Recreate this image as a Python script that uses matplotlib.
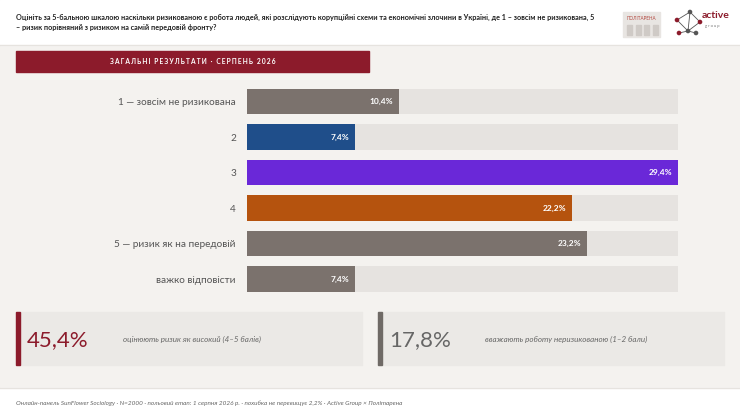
import matplotlib
matplotlib.use('Agg')
import matplotlib.pyplot as plt
from matplotlib.patches import Rectangle, Circle
import numpy as np

plt.rcParams['font.family'] = ['Lato', 'DejaVu Sans']

# data
categories = ['1 — зовсім не ризикована', '2', '3', '4', '5 — ризик як на передовій', 'важко відповісти']
values = [10.4, 7.4, 29.4, 22.2, 23.2, 7.4]
bar_colors = ['#7b726d', '#1f4e8a', '#6a28d8', '#b5530e', '#7b726d', '#7b726d']
value_labels = ['10,4%', '7,4%', '29,4%', '22,2%', '23,2%', '7,4%']

title = ('Оцініть за 5-бальною шкалою наскільки ризикованою є робота людей, які розслідують корупційні схеми та економічні злочини в Україні, де 1 – зовсім не ризикована, 5\n'
         '– ризик порівняний з ризиком на самій передовій фронту?')
banner = 'ЗАГАЛЬНІ РЕЗУЛЬТАТИ · СЕРПЕНЬ 2026'
summary_values = ['45,4%', '17,8%']
summary_texts = ['оцінюють ризик як високий (4–5 балів)', 'вважають роботу неризикованою (1–2 бали)']
footer = 'Онлайн-панель SunFlower Sociology · N=2000 · польовий етап: 1 серпня 2026 р. · похибка не перевищує 2,2% · Active Group × Політарена'

W, H = 740, 416
bg = '#f4f2ef'
red = '#8c1b2b'

fig = plt.figure(figsize=(W / 100, H / 100), dpi=100, facecolor=bg)

# background layer in pixel coords
bgax = fig.add_axes([0, 0, 1, 1])
bgax.set_xlim(0, W)
bgax.set_ylim(H, 0)
bgax.axis('off')
bgax.set_facecolor(bg)

bgax.add_patch(Rectangle((0, 0), W, 45, color='white', zorder=0))
bgax.plot([0, W], [45, 45], color='#e6e3df', lw=1)
bgax.add_patch(Rectangle((0, 388), W, H - 388, color='white', zorder=0))
bgax.plot([0, W], [388, 388], color='#e6e3df', lw=1)

bgax.text(16, 22.5, title, fontsize=5.2, fontweight='bold', color='#222222',
          ha='left', va='center', linespacing=1.5)

# logos (rough)
bgax.add_patch(Rectangle((623, 12), 37, 25, color='#e8e5e2', zorder=1))
bgax.text(641.5, 18, 'ПОЛІТАРЕНА', fontsize=3.3, color='#b3473f', ha='center', va='center', zorder=2)
for k in range(4):
    bgax.add_patch(Rectangle((627 + k * 8.5, 25), 5, 10, color='#cfcac6', zorder=2))
nodes = [(677, 20), (690, 12), (700, 22), (688, 31), (679, 33), (696, 33)]
for a, b in [(0, 1), (1, 2), (2, 3), (3, 4), (0, 3), (1, 3), (3, 5)]:
    bgax.plot([nodes[a][0], nodes[b][0]], [nodes[a][1], nodes[b][1]], color='#555', lw=0.6)
for i, (nx, ny) in enumerate(nodes):
    bgax.add_patch(Circle((nx, ny), 1.6, color=red if i % 2 == 0 else '#555', zorder=3))
bgax.text(702, 16, 'active', fontsize=7.5, fontweight='bold', color=red, ha='left', va='center')
bgax.text(705, 26, 'g r o u p', fontsize=3, color='#777', ha='left', va='center')

# banner
bgax.add_patch(Rectangle((16, 51), 353, 20.5, color=red, zorder=1))
bgax.text(192.5, 61.5, '\u200a\u200a\u200a'.join(banner), fontsize=4.8, fontweight='bold',
          color='white', ha='center', va='center', zorder=2)

# summary boxes
for i, (sv, st) in enumerate(zip(summary_values, summary_texts)):
    x0 = 16 + i * 362
    accent = red if i == 0 else '#6f6a66'
    bgax.add_patch(Rectangle((x0, 312), 346, 53, color='#ebe9e6', zorder=1))
    bgax.add_patch(Rectangle((x0, 312), 3.5, 53, color=accent, zorder=2))
    bgax.text(x0 + 11, 340.5, sv, fontsize=16, color=accent if i == 0 else '#666',
              ha='left', va='center', zorder=3)
    bgax.text(x0 + 107, 339, st, fontsize=5.8, style='italic', color='#666',
              ha='left', va='center', zorder=3)

bgax.text(16, 403, footer, fontsize=4.6, style='italic', color='#666', ha='left', va='center')

# bar chart
pitch = 35.5
top = 101.6 - pitch / 2
ax = fig.add_axes([247 / W, 1 - (top + 6 * pitch) / H, 431 / W, 6 * pitch / H])
ax.set_facecolor('none')
y = np.arange(len(categories))
vmax = max(values)
ax.barh(y, [vmax] * len(y), height=0.72, color='#e6e3e0', zorder=1)
ax.barh(y, values, height=0.72, color=bar_colors, zorder=2)
for yi, v, lab in zip(y, values, value_labels):
    ax.text(v - 0.42, yi, lab, fontsize=6, fontweight='bold', color='white',
            ha='right', va='center', zorder=3)
ax.set_xlim(0, vmax)
ax.set_ylim(len(y) - 0.5, -0.5)
ax.set_yticks(y)
ax.set_yticklabels(categories, fontsize=7.2, color='#555')
ax.tick_params(axis='y', length=0, pad=8)
ax.set_xticks([])
for s in ax.spines.values():
    s.set_visible(False)

fig.savefig('out.png', dpi=100, facecolor=bg)
